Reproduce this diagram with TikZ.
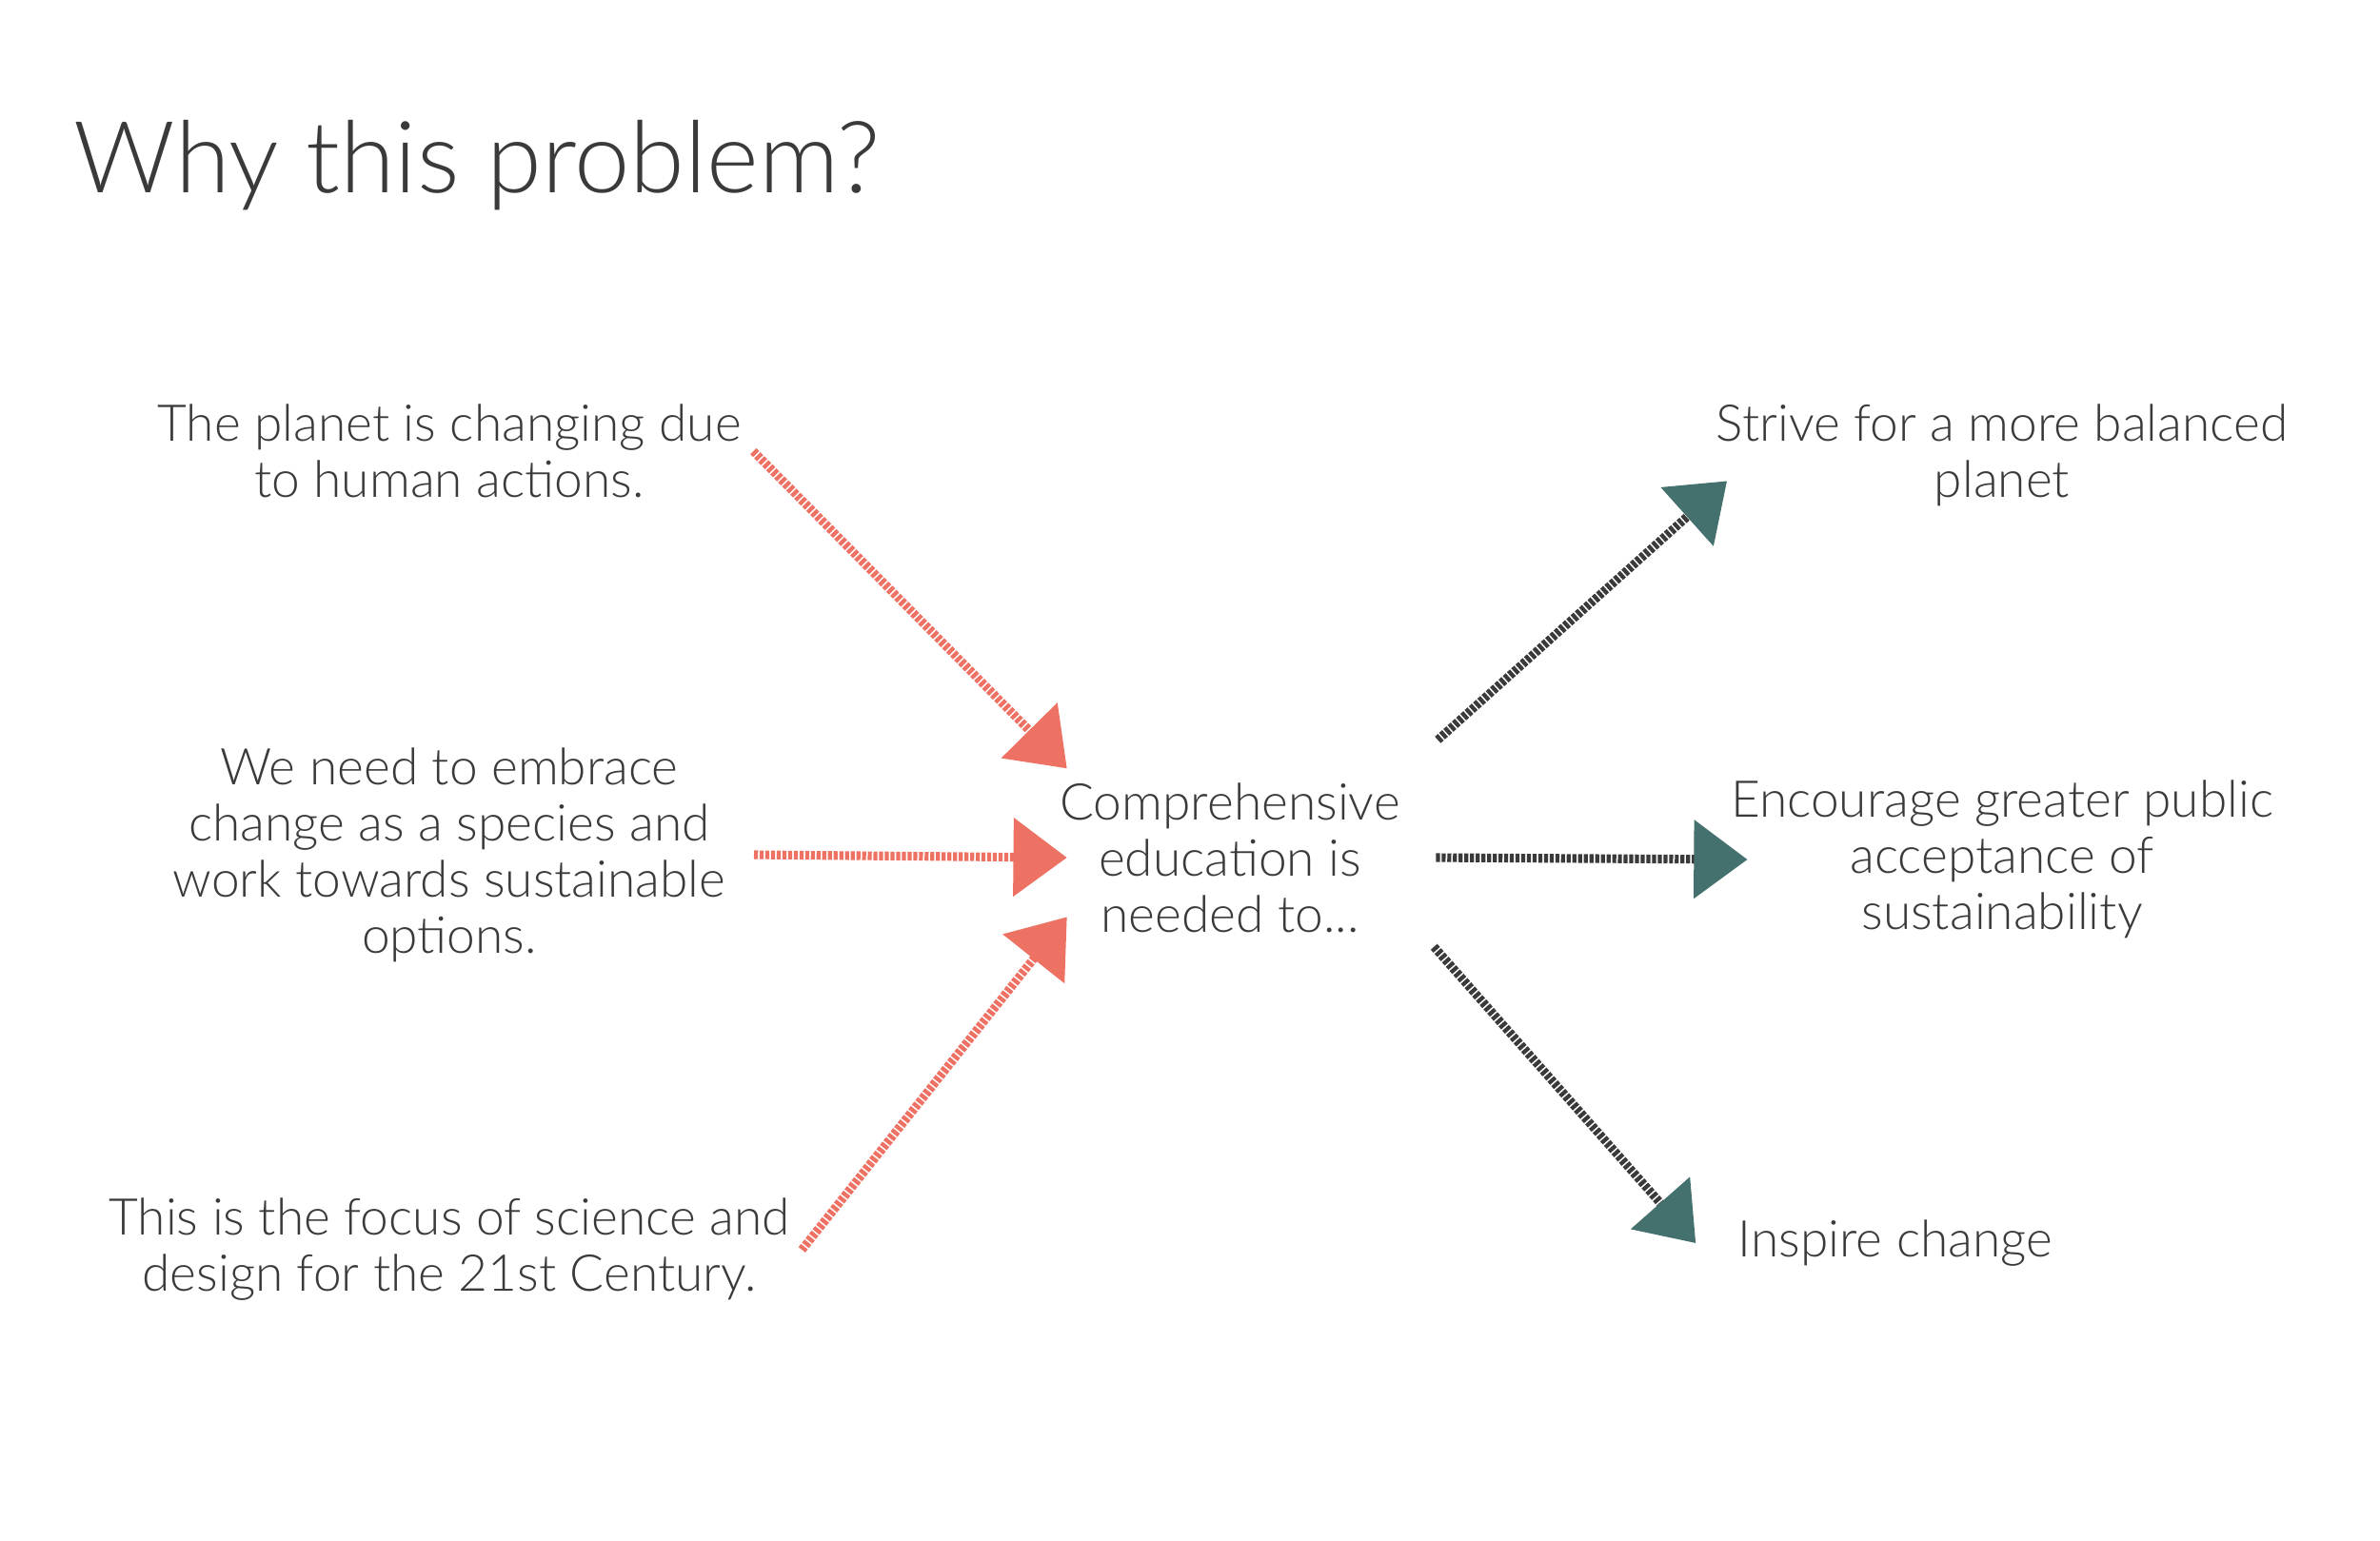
\documentclass[tikz,border=0pt]{standalone}
\usepackage{fontspec}
\setmainfont{Lato}[UprightFont=* Light]
\usetikzlibrary{arrows.meta}
\definecolor{salmon}{HTML}{EE7263}
\definecolor{inkgray}{HTML}{3A3A3A}
\definecolor{tealhead}{HTML}{44706E}

\begin{document}
\begin{tikzpicture}[
  txt/.style={align=center, text=inkgray, font=\fontsize{15.15}{16.8}\selectfont, inner sep=0.12cm},
  inarrow/.style={draw=salmon, line width=2.6pt, dash pattern=on 1.2pt off 0.5pt,
    -{Triangle[length=16pt,width=23pt,color=salmon]}},
  outarrow/.style={draw=inkgray, line width=2.6pt, dash pattern=on 1.2pt off 0.5pt,
    -{Triangle[length=16pt,width=23pt,color=tealhead]}}
]
\useasboundingbox (0,0) rectangle (25,-16.18);

% Title
\node[anchor=base west, text=inkgray, font=\fontsize{29.8}{34}\selectfont, inner sep=0] (title) at (0.77,-2.02) {Why this problem?};

% Reasons
\node[txt] (reason1) at (4.72,-4.74) {The planet is changing due\\to human actions.};
\node[txt] (reason2) at (4.72,-8.98) {We need to embrace\\change as a species and\\work towards sustainable\\options.};
\node[txt] (reason3) at (4.72,-13.13) {This is the focus of science and\\design for the 21st Century.};

% Middle
\node[txt, inner xsep=-0.08cm, minimum height=1.86cm] (edu) at (12.92,-9.01) {Comprehensive\\education is\\needed to...};

% Goals
\node[txt] (goal1) at (21.03,-4.78) {Strive for a more balanced\\planet};
\node[txt] (goal2) at (21.03,-9.03) {Encourage greater public\\acceptance of\\sustainability};
\node[txt] (goal3) at (19.91,-13.06) {Inspire change};

% Arrows in
\draw[inarrow] (reason1.east) -- (edu.north west);
\draw[inarrow] ([xshift=0.17cm]reason2.east) -- (edu.west);
\draw[inarrow] (reason3.east) -- (edu.200);

% Arrows out
\draw[outarrow] ([shift={(0.47,0.3)}]edu.north east) -- ([xshift=0.24cm]goal1.185);
\draw[outarrow] ([xshift=0.45cm]edu.east) -- ([xshift=0.3cm]goal2.west);
\draw[outarrow] ([xshift=0.43cm]edu.south east) -- ([xshift=-0.32cm]goal3.west);

\end{tikzpicture}
\end{document}
